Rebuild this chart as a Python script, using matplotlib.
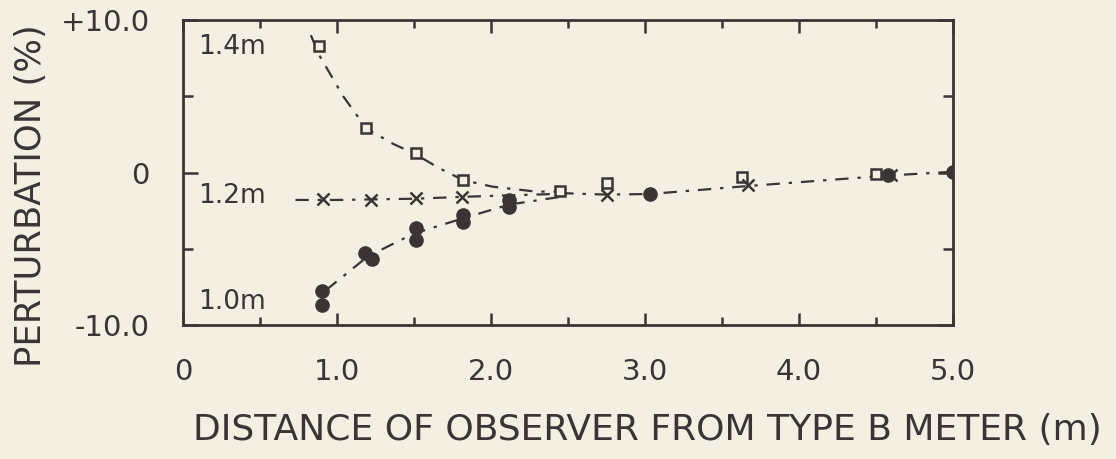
import matplotlib
matplotlib.use("Agg")
import matplotlib.pyplot as plt
from matplotlib.ticker import MultipleLocator

# ---------------- data ----------------
# 1.4 m series (open squares)
sq_x = [0.88, 1.19, 1.51, 1.82, 2.45, 2.75, 3.63, 4.50]
sq_y = [8.3, 2.9, 1.26, -0.49, -1.19, -0.67, -0.27, -0.10]
# 1.2 m series (crosses)
cr_x = [0.91, 1.22, 1.51, 1.81, 2.75, 3.67, 4.60]
cr_y = [-1.76, -1.80, -1.70, -1.58, -1.48, -0.82, -0.16]
# 1.0 m series (filled circles)
ci_x = [0.90, 0.90, 1.18, 1.23, 1.51, 1.51, 1.82, 1.82, 2.12, 2.12, 3.03, 4.58, 5.00]
ci_y = [-7.8, -8.7, -5.3, -5.7, -3.62, -4.43, -2.79, -3.22, -1.80, -2.28, -1.41, -0.16, 0.05]

# hand-drawn guide curves
g14_x = [0.83, 0.89, 1.04, 1.19, 1.36, 1.51, 1.66, 1.82, 2.01, 2.29, 2.45]
g14_y = [9.0, 7.6, 5.0, 2.9, 1.9, 1.2, 0.3, -0.5, -0.93, -1.25, -1.25]
g12_x = [0.73, 1.00, 1.50, 1.81, 2.10, 2.45]
g12_y = [-1.80, -1.80, -1.72, -1.60, -1.50, -1.40]
g10_x = [0.93, 1.20, 1.50, 1.82, 2.12, 2.45]
g10_y = [-7.7, -5.5, -4.0, -3.0, -2.1, -1.6]
gc_x = [2.45, 2.75, 3.03, 3.65, 4.58, 5.00]
gc_y = [-1.35, -1.45, -1.41, -0.90, -0.20, 0.05]

series_labels = ["1.4m", "1.2m", "1.0m"]
label_y = [8.2, -1.54, -8.5]

x_ticks = [0, 1, 2, 3, 4, 5]
x_ticklabels = ["0", "1.0", "2.0", "3.0", "4.0", "5.0"]
y_ticks = [-10, 0, 10]
y_ticklabels = ["-10.0", "0", "+10.0"]

# ---------------- style ----------------
INK = "#3a3434"
BG = "#f3f0e3"
plt.rcParams["font.family"] = ["DejaVu Sans"]

fig = plt.figure(figsize=(11.16, 4.59), dpi=100, facecolor=BG)
ax = fig.add_axes([183 / 1116, 1 - 325 / 459, 770 / 1116, 305 / 459])
ax.set_facecolor(BG)

ls = (0, (6, 4, 1.5, 4))
for gx, gy in [(g14_x, g14_y), (g12_x, g12_y), (g10_x, g10_y), (gc_x, gc_y)]:
    ax.plot(gx, gy, color=INK, lw=1.6, linestyle=ls, zorder=2)

ax.plot(sq_x, sq_y, linestyle="none", marker="s", ms=6.5, mfc=BG, mec=INK, mew=1.8, zorder=4)
ax.plot(cr_x, cr_y, linestyle="none", marker="x", ms=8, mec=INK, mew=1.8, zorder=4)
ax.plot(ci_x, ci_y, linestyle="none", marker="o", ms=9.5, mfc=INK, mec=INK, zorder=3)

for lab, ly in zip(series_labels, label_y):
    ax.text(0.10, ly, lab, fontsize=19, color=INK, ha="left", va="center")

ax.set_xlim(0, 5)
ax.set_ylim(-10, 10)
ax.set_xticks(x_ticks)
ax.set_xticklabels(x_ticklabels)
ax.set_yticks(y_ticks)
ax.set_yticklabels(y_ticklabels)
ax.xaxis.set_minor_locator(MultipleLocator(0.5))
ax.yaxis.set_minor_locator(MultipleLocator(5))

ax.tick_params(axis="both", which="both", direction="in", color=INK,
               labelcolor=INK, labelsize=21, width=1.8,
               top=True, right=True)
ax.tick_params(axis="x", which="major", length=9, pad=24)
ax.tick_params(axis="x", which="minor", length=6)
ax.tick_params(axis="y", which="major", length=11, pad=24)
ax.tick_params(axis="y", which="minor", length=7)

for s in ax.spines.values():
    s.set_color(INK)
    s.set_linewidth(2.0)

ax.set_xlabel("DISTANCE OF OBSERVER FROM TYPE B METER (m)", fontsize=26, color=INK)
ax.xaxis.set_label_coords((647 - 183) / 770, (325 - 430) / 305)
ax.xaxis.label.set_va("center")
ax.set_ylabel("PERTURBATION (%)", fontsize=25.5, color=INK)
ax.yaxis.set_label_coords((31 - 183) / 770, (325 - 196) / 305)
ax.yaxis.label.set_va("center")

fig.savefig("out.png", dpi=100, facecolor=BG)
